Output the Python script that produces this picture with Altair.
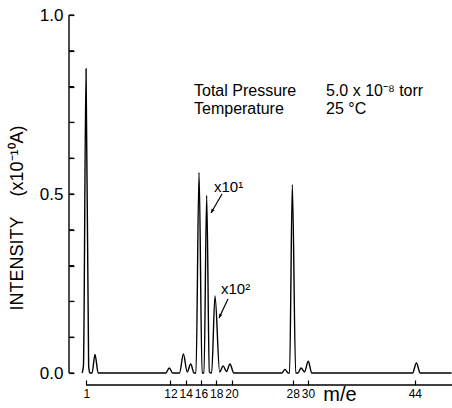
import altair as alt
import pandas as pd

# ---- data ----
trace_mz = [0.45, 0.62, 0.96, 1.30, 1.45, 1.75, 2.13, 2.55,
            11.40, 11.85, 12.30,
            13.20, 13.70, 14.20, 14.66, 15.10,
            15.35, 15.75, 16.15,
            16.40, 16.75, 17.10,
            17.40, 17.84, 18.45, 18.90, 19.35, 19.80, 20.30,
            26.60, 27.00, 27.40,
            27.60, 27.96, 28.40,
            28.70, 29.10, 29.55, 30.05, 30.50,
            43.70, 44.20, 44.70, 48.80]
trace_int = [0.0, 0.02, 0.85, 0.02, 0.0, 0.0, 0.052, 0.0,
             0.0, 0.014, 0.0,
             0.0, 0.053, 0.003, 0.025, 0.0,
             0.0, 0.56, 0.0,
             0.0, 0.496, 0.003,
             0.0, 0.215, 0.003, 0.02, 0.004, 0.025, 0.0,
             0.0, 0.01, 0.0,
             0.0, 0.526, 0.0,
             0.0, 0.014, 0.003, 0.033, 0.0,
             0.0, 0.028, 0.0, 0.0]

x_tick_values = [1, 12, 14, 16, 18, 20, 28, 30, 44]
y_tick_values = [0.0, 0.1, 0.2, 0.3, 0.4, 0.5, 0.6, 0.7, 0.8, 0.9, 1.0]

y_title = "INTENSITY\u00a0\u00a0\u00a0\u00a0(x10\u207b\u00b9\u2070A)"
x_title = "m/e"
info_labels = ["Total\u00a0Pressure", "Temperature"]
info_values = ["5.0 x 10\u207b\u2078 torr", "25 \u00b0C"]
scale_notes = ["x10\u00b9", "x10\u00b2"]

df = pd.DataFrame({"mz": trace_mz, "intensity": trace_int})
ticks_df = pd.DataFrame({"v": y_tick_values})
one = pd.DataFrame({"k": [0]})

FONT = "Liberation Sans"
W, H = 383, 358
XMIN, XMAX = -1.27, 48.86

xscale = alt.Scale(domain=[XMIN, XMAX], nice=False, zero=False)
yscale = alt.Scale(domain=[0, 1.0], nice=False)

x_axis = alt.Axis(values=x_tick_values, title=None, domain=False, grid=False,
                  tickSize=5, offset=7, tickColor="black", tickWidth=1.2,
                  labelFont=FONT, labelFontSize=12, labelColor="black",
                  labelPadding=3, labelFlush=False, labelOverlap=False)
y_axis = alt.Axis(values=y_tick_values, title=None, domain=False, grid=False,
                  tickSize=5, offset=-5, tickColor="black", tickWidth=1.2,
                  labelExpr="round(datum.value*10) % 5 == 0 ? format(datum.value, '.1f') : ''",
                  labelFont=FONT, labelFontSize=17, labelColor="black",
                  labelPadding=6, labelFlush=False, labelOverlap=False)

line = alt.Chart(df).mark_line(color="black", strokeWidth=1.4, interpolate="monotone").encode(
    x=alt.X("mz:Q", scale=xscale, axis=x_axis),
    y=alt.Y("intensity:Q", scale=yscale, axis=y_axis),
)

# inward ticks on the intensity axis
y_ticks = alt.Chart(ticks_df).mark_rule(color="black", strokeWidth=1.2).encode(
    y=alt.Y("v:Q", scale=yscale, axis=y_axis), x=alt.value(0), x2=alt.value(5))

# axis lines (x axis line starts at the first labelled m/e value)
x_line_start = (x_tick_values[0] - XMIN) / (XMAX - XMIN) * W
y_domain = alt.Chart(one).mark_rule(color="black", strokeWidth=1.4).encode(
    x=alt.value(0), y=alt.value(0), y2=alt.value(H))
x_domain = alt.Chart(one).mark_rule(color="black", strokeWidth=1.4).encode(
    x=alt.value(x_line_start), x2=alt.value(W), y=alt.value(370))

def txt(text, x, y, size, align="left", angle=0):
    return alt.Chart(one).mark_text(
        text=text, font=FONT, fontSize=size, color="black", align=align,
        baseline="middle", angle=angle
    ).encode(x=alt.value(x), y=alt.value(y))

texts = [
    txt(info_labels[0], 125, 76, 16),
    txt(info_values[0], 257, 76, 16),
    txt(info_labels[1], 125, 94, 16),
    txt(info_values[1], 257, 94, 16),
    txt(scale_notes[0], 145, 172, 15),
    txt(scale_notes[1], 152, 274, 15),
    txt(x_title, 271, 380, 20, align="center"),
    txt(y_title, -51, 203, 18, align="center", angle=270),
]

def arrow(x1, y1, x2, y2, ang):
    shaft = alt.Chart(one).mark_rule(color="black", strokeWidth=1.2).encode(
        x=alt.value(x1), y=alt.value(y1), x2=alt.value(x2), y2=alt.value(y2))
    head = alt.Chart(one).mark_point(
        shape="M0,0L-0.4,1L0.4,1Z", filled=True, color="black", size=70,
        angle=ang, opacity=1
    ).encode(x=alt.value(x2), y=alt.value(y2))
    return shaft + head

arrows = arrow(153, 179, 142, 198, 210) + arrow(159, 284, 150, 303, 205)

chart = alt.layer(line, y_ticks, y_domain, x_domain, arrows, *texts).properties(
    width=W, height=H,
    autosize=alt.AutoSizeParams(type="none"),
    padding={"left": 69, "top": 15, "right": 0, "bottom": 35},
    background="white",
).configure_view(strokeWidth=0)

chart.save("out.html", embed_options={"renderer": "svg", "actions": False})
